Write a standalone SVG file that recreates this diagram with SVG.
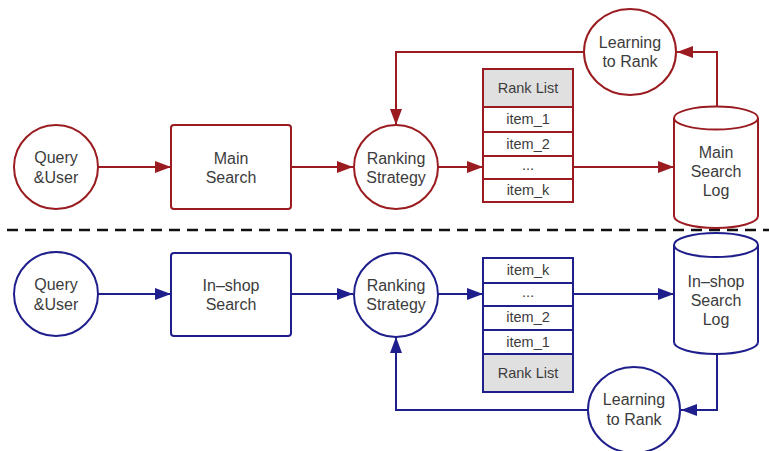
<svg xmlns="http://www.w3.org/2000/svg" width="769" height="451" viewBox="0 0 769 451">
  <defs>
    <style>
      text { font-family: "Liberation Sans", Arial, sans-serif; font-size: 16px; fill: #3c3c3c; text-anchor: middle; }
      .small { font-size: 14.5px; }
      .red { fill: #ffffff; stroke: #9a1b20; stroke-width: 2; }
      .blue { fill: #ffffff; stroke: #1e1e8c; stroke-width: 2; }
      .hdr-red { fill: #e0e0e0; stroke: #9a1b20; stroke-width: 2; }
      .hdr-blue { fill: #e0e0e0; stroke: #1e1e8c; stroke-width: 2; }
      .link-red { fill: none; stroke: #9a1b20; stroke-width: 2; }
      .link-blue { fill: none; stroke: #1e1e8c; stroke-width: 2; }
      .divider { stroke: #111111; stroke-width: 2.5; stroke-dasharray: 11 7; }
    </style>
    <marker id="arrow-red" viewBox="0 0 16 12" refX="16" refY="6" markerWidth="16" markerHeight="12" markerUnits="userSpaceOnUse" orient="auto">
      <path d="M0,0 L16,6 L0,12 Z" fill="#9a1b20"/>
    </marker>
    <marker id="arrow-blue" viewBox="0 0 16 12" refX="16" refY="6" markerWidth="16" markerHeight="12" markerUnits="userSpaceOnUse" orient="auto">
      <path d="M0,0 L16,6 L0,12 Z" fill="#1e1e8c"/>
    </marker>
  </defs>

  <rect width="769" height="451" fill="#ffffff"/>

  <!-- connectors -->
  <g id="connectors">
    <!-- main search flow -->
    <line class="link-red" x1="97" y1="167" x2="171" y2="167" marker-end="url(#arrow-red)"/>
    <line class="link-red" x1="291" y1="167" x2="353" y2="167" marker-end="url(#arrow-red)"/>
    <line class="link-red" x1="438" y1="167" x2="483" y2="167" marker-end="url(#arrow-red)"/>
    <line class="link-red" x1="573" y1="167" x2="674" y2="167" marker-end="url(#arrow-red)"/>
    <polyline class="link-red" points="717,107 717,52 677,52" marker-end="url(#arrow-red)"/>
    <polyline class="link-red" points="584,52 396,52 396,125" marker-end="url(#arrow-red)"/>
    <!-- in-shop search flow -->
    <line class="link-blue" x1="97" y1="294" x2="171" y2="294" marker-end="url(#arrow-blue)"/>
    <line class="link-blue" x1="291" y1="294" x2="353" y2="294" marker-end="url(#arrow-blue)"/>
    <line class="link-blue" x1="438" y1="294" x2="483" y2="294" marker-end="url(#arrow-blue)"/>
    <line class="link-blue" x1="573" y1="294" x2="674" y2="294" marker-end="url(#arrow-blue)"/>
    <polyline class="link-blue" points="717,354 717,410 681,410" marker-end="url(#arrow-blue)"/>
    <polyline class="link-blue" points="588,410 396,410 396,337" marker-end="url(#arrow-blue)"/>
  </g>

  <!-- divider between the two pipelines -->
  <line class="divider" x1="7" y1="230" x2="769" y2="230"/>

  <!-- main search pipeline -->
  <g id="query-user-main">
    <circle class="red" cx="56" cy="167" r="42"/>
    <text x="56" y="163">Query</text>
    <text x="56" y="183">&amp;User</text>
  </g>
  <g id="main-search">
    <rect class="red" x="171" y="125" width="120" height="84" rx="3"/>
    <text x="231" y="164">Main</text>
    <text x="231" y="183">Search</text>
  </g>
  <g id="ranking-strategy-main">
    <circle class="red" cx="396" cy="167" r="42"/>
    <text x="396" y="164">Ranking</text>
    <text x="396" y="183">Strategy</text>
  </g>
  <g id="rank-list-main">
    <rect class="hdr-red" x="483" y="69" width="90" height="38"/>
    <rect class="red" x="483" y="107" width="90" height="25"/>
    <rect class="red" x="483" y="132" width="90" height="24"/>
    <rect class="red" x="483" y="156" width="90" height="23"/>
    <rect class="red" x="483" y="179" width="90" height="23"/>
    <text class="small" x="528" y="93">Rank List</text>
    <text class="small" x="528" y="124">item_1</text>
    <text class="small" x="528" y="149">item_2</text>
    <text class="small" x="528" y="170">...</text>
    <text class="small" x="528" y="195">item_k</text>
  </g>
  <g id="main-search-log">
    <path class="red" d="M674,118 L674,216 A42,12 0 0 0 758,216 L758,118"/>
    <ellipse class="red" cx="716" cy="118" rx="42" ry="11.5"/>
    <text x="716" y="158">Main</text>
    <text x="716" y="177">Search</text>
    <text x="716" y="196">Log</text>
  </g>
  <g id="learning-to-rank-main">
    <ellipse class="red" cx="630" cy="52" rx="46" ry="43"/>
    <text x="630" y="48">Learning</text>
    <text x="630" y="67">to Rank</text>
  </g>

  <!-- in-shop search pipeline -->
  <g id="query-user-inshop">
    <circle class="blue" cx="56" cy="294" r="42"/>
    <text x="56" y="290">Query</text>
    <text x="56" y="310">&amp;User</text>
  </g>
  <g id="inshop-search">
    <rect class="blue" x="171" y="253" width="120" height="83" rx="3"/>
    <text x="231" y="291">In–shop</text>
    <text x="231" y="310">Search</text>
  </g>
  <g id="ranking-strategy-inshop">
    <circle class="blue" cx="396" cy="295" r="42"/>
    <text x="396" y="291">Ranking</text>
    <text x="396" y="310">Strategy</text>
  </g>
  <g id="rank-list-inshop">
    <rect class="blue" x="483" y="258" width="90" height="25"/>
    <rect class="blue" x="483" y="283" width="90" height="23"/>
    <rect class="blue" x="483" y="306" width="90" height="24"/>
    <rect class="blue" x="483" y="330" width="90" height="24"/>
    <rect class="hdr-blue" x="483" y="354" width="90" height="38"/>
    <text class="small" x="528" y="275">item_k</text>
    <text class="small" x="528" y="297">...</text>
    <text class="small" x="528" y="322">item_2</text>
    <text class="small" x="528" y="347">item_1</text>
    <text class="small" x="528" y="378">Rank List</text>
  </g>
  <g id="inshop-search-log">
    <path class="blue" d="M674,245 L674,342 A42,12 0 0 0 758,342 L758,245"/>
    <ellipse class="blue" cx="716" cy="245" rx="42" ry="12"/>
    <text x="716" y="287">In–shop</text>
    <text x="716" y="306">Search</text>
    <text x="716" y="325">Log</text>
  </g>
  <g id="learning-to-rank-inshop">
    <ellipse class="blue" cx="634" cy="410" rx="46" ry="43"/>
    <text x="634" y="405">Learning</text>
    <text x="634" y="425">to Rank</text>
  </g>
</svg>
